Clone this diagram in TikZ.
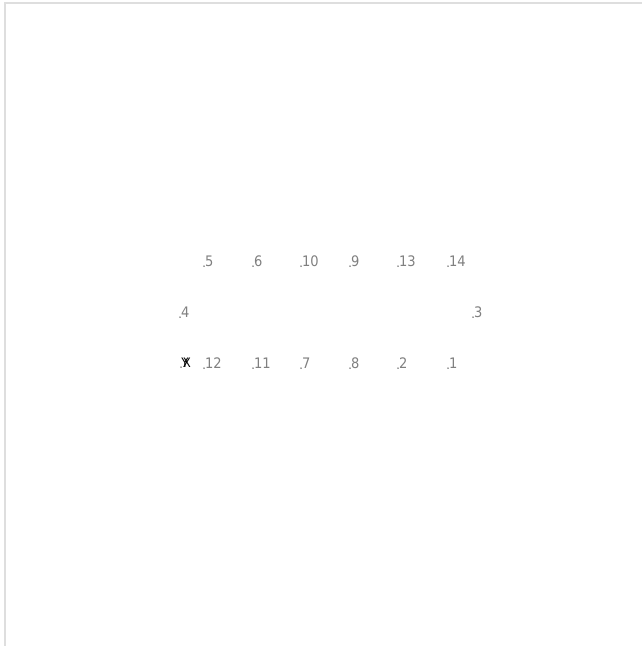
\documentclass[tikz,border=0pt]{standalone}
\usepackage{fontspec}
\setmainfont{DejaVu Sans Condensed}
\begin{document}
\begin{tikzpicture}[x=1pt,y=-1pt,
  pt/.style={circle,fill=black!75,inner sep=0pt,minimum size=1.5pt},
  lbl/.style={anchor=south west,inner sep=0pt,text=black!50,font=\fontsize{14.5}{14.5}\selectfont},
  mk/.style={anchor=center,inner sep=0pt,text=black,font=\fontsize{13}{13}\selectfont}]
\useasboundingbox (0,0) rectangle (642,646);
\fill[white] (0,0) rectangle (642,646);
\draw[black!13,line width=2pt] (4.5,646) -- (4.5,3) -- (642,3);
% points and labels: name/x/y/text
\foreach \n/\x/\y/\t in {p5/204/266/5, p6/253/266/6, p10/301/266/10, p9/350/266/9, p13/398/266/13, p14/448/266/14,
  p4/180/317/4, p3/473/317/3,
  p12/204/368/12, p11/253/368/11, p7/301/368/7, p8/350/368/8, p2/398/368/2, p1/448/368/1}{
  \node[pt] (\n) at (\x,\y) {};
  \node[lbl] (\n t) at (\x+0.8,\y+1) {\t};
}
\node[pt] (p0) at (181,367) {};
\node[mk] (my) at (185,363) {Y};
\node[mk] (mx) at (187,363) {X};
\end{tikzpicture}
\end{document}
